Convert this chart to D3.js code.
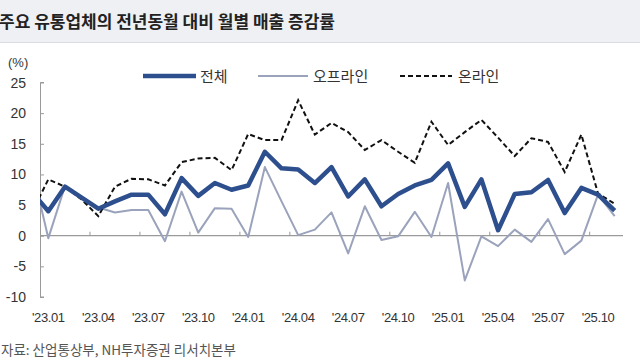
<!DOCTYPE html>
<html><head><meta charset="utf-8">
<script src="https://cdn.jsdelivr.net/npm/d3@7/dist/d3.min.js"></script>
<style>
html,body{margin:0;padding:0;background:#fff;}
svg{display:block;font-family:Arial,"Liberation Sans","Noto Sans CJK KR",sans-serif;}
</style></head>
<body>
<svg id="c" width="640" height="360"></svg>
<script>
const months = ["22.12","23.01","23.02","23.03","23.04","23.05","23.06","23.07","23.08","23.09","23.10","23.11","23.12",
"24.01","24.02","24.03","24.04","24.05","24.06","24.07","24.08","24.09","24.10","24.11","24.12",
"25.01","25.02","25.03","25.04","25.05","25.06","25.07","25.08","25.09","25.10","25.11"];
const total = [7.2,4.0,8.0,6.2,4.4,5.6,6.7,6.7,3.5,9.4,6.5,8.6,7.5,8.2,13.7,11.0,10.8,8.6,11.2,6.4,9.2,4.8,6.8,8.2,9.1,11.8,4.7,9.2,0.9,6.8,7.1,9.1,3.7,7.8,6.7,4.1];
const offline = [11.2,-0.4,8.1,6.3,4.6,3.8,4.2,4.2,-0.9,7.2,0.5,4.5,4.4,-0.2,11.2,5.6,0.1,1.0,3.8,-2.9,4.8,-0.7,-0.1,3.9,-0.2,8.6,-7.3,-0.1,-1.7,1.0,-1.0,2.7,-3.0,-0.8,6.7,3.2];
const online = [3.7,9.2,8.0,5.9,3.2,8.0,9.3,9.2,8.2,12.0,12.6,12.7,10.7,16.6,15.6,15.6,22.1,16.5,18.4,16.9,14.0,15.6,13.7,11.9,18.6,14.8,16.9,18.9,16.0,13.0,15.9,15.3,10.4,16.5,6.9,5.2];
const tickLabels = ["23.01","23.04","23.07","23.10","24.01","24.04","24.07","24.10","25.01","25.04","25.07","25.10"];
const yTicks = [-10,-5,0,5,10,15,20,25];
const seriesNames = ["전체","오프라인","온라인"];
const titleText = "주요 유통업체의 전년동월 대비 월별 매출 증감률";
const sourceText = "자료: 산업통상부, NH투자증권 리서치본부";

const svg = d3.select("#c");
const W = 640, H = 360;
const left = 40, right = 623;

// title band
svg.append("rect").attr("x",0).attr("y",0).attr("width",W).attr("height",42).attr("fill","#eff0f4");
svg.append("line").attr("x1",0).attr("x2",W).attr("y1",42.5).attr("y2",42.5).attr("stroke","#d9dbe2");
svg.append("text").attr("x",-1).attr("y",28).attr("font-size",17).attr("font-weight","bold")
  .attr("fill","#222").attr("font-family","'Noto Sans CJK KR',sans-serif").text(titleText);

const bw = (right - left) / (months.length - 1);
const x = d3.scaleBand().domain(months).range([left - bw, right]).padding(0);
const cx = m => x(m) + x.bandwidth()/2;
const y = d3.scaleLinear().domain([-10,25]).range([297,82.5]);

// y axis
const yAxis = d3.axisRight(y).tickValues(yTicks).tickSize(4).tickFormat("");
const ga = svg.append("g").attr("transform",`translate(${left},0)`).call(yAxis);
ga.selectAll("path,line").attr("stroke","#9a9a9a");
ga.select(".domain").attr("d",`M4,${y(25)}H0.5V${y(-10)}H4`);
svg.append("g").selectAll("text").data(yTicks).join("text")
  .attr("x",26).attr("y",d=>y(d)+5).attr("text-anchor","end").attr("font-size",14).attr("fill","#333")
  .text(d=>d);
svg.append("text").attr("x",8).attr("y",67).attr("font-size",13).attr("fill","#333").text("(%)");

// zero axis
svg.append("line").attr("x1",left).attr("x2",right).attr("y1",y(0)).attr("y2",y(0)).attr("stroke","#9a9a9a").attr("stroke-width",1.3);
svg.append("g").selectAll("line").data(tickLabels.slice(1)).join("line")
  .attr("x1",d=>x(d)).attr("x2",d=>x(d)).attr("y1",y(0)).attr("y2",y(0)-4).attr("stroke","#9a9a9a");
svg.append("g").selectAll("text").data(tickLabels).join("text")
  .attr("x",d=>cx(d)).attr("y",322).attr("text-anchor","middle").attr("font-size",13).attr("letter-spacing","-0.4")
  .attr("fill","#333").text(d=>"'"+d);

// clip
svg.append("clipPath").attr("id","clip").append("rect").attr("x",left).attr("y",0).attr("width",right-left+10).attr("height",H);
const g = svg.append("g").attr("clip-path","url(#clip)");
const line = d3.line().x((d,i)=>cx(months[i])).y(d=>y(d));
g.append("path").datum(offline).attr("d",line).attr("fill","none").attr("stroke","#9aa3bb").attr("stroke-width",2).attr("stroke-linejoin","round");
g.append("path").datum(online).attr("d",line).attr("fill","none").attr("stroke","#111").attr("stroke-width",2).attr("stroke-dasharray","5,3");
g.append("path").datum(total).attr("d",line).attr("fill","none").attr("stroke","#2d4f8e").attr("stroke-width",4.5).attr("stroke-linejoin","round");

// legend
const leg = [
  {n:seriesNames[0], x1:143, x2:196, tx:200, c:"#2d4f8e", w:4.5, dash:null},
  {n:seriesNames[1], x1:258, x2:308, tx:313, c:"#9aa3bb", w:2, dash:null},
  {n:seriesNames[2], x1:400, x2:452, tx:458, c:"#111", w:2, dash:"5,3"}
];
const lg = svg.append("g");
leg.forEach(l=>{
  lg.append("line").attr("x1",l.x1).attr("x2",l.x2).attr("y1",76).attr("y2",76).attr("stroke",l.c).attr("stroke-width",l.w).attr("stroke-dasharray",l.dash);
  lg.append("text").attr("x",l.tx).attr("y",81.5).attr("font-size",15).attr("fill","#333").attr("font-family","'Noto Sans CJK KR',sans-serif").text(l.n);
});

// source
svg.append("text").attr("x",1).attr("y",355).attr("font-size",13.5).attr("fill","#555").attr("font-family","'Noto Sans CJK KR',sans-serif").text(sourceText);
</script>
</body></html>
